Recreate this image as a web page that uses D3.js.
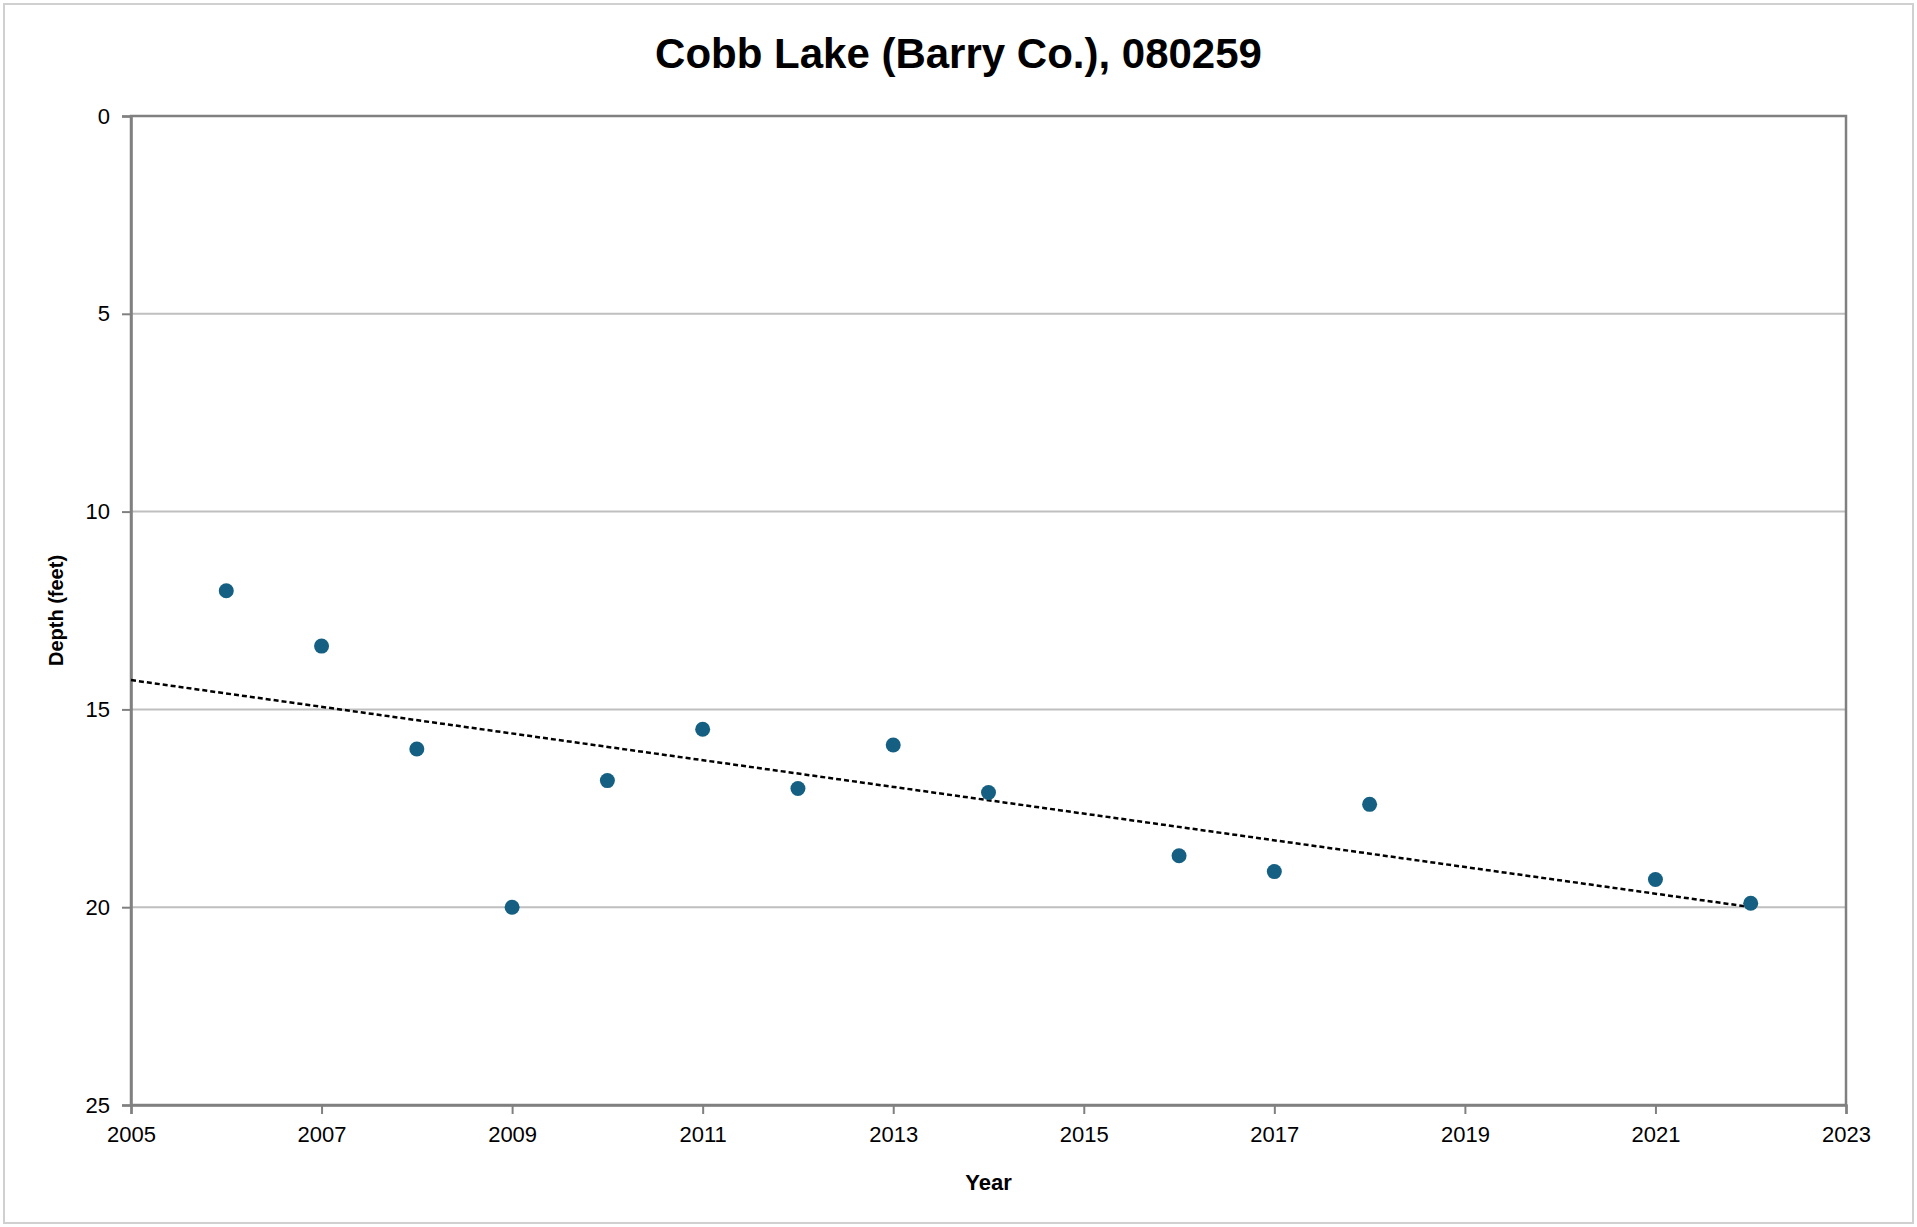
<!DOCTYPE html>
<html>
<head>
<meta charset="utf-8">
<script src="https://cdn.jsdelivr.net/npm/d3@7"></script>
<style>
  body { margin: 0; background: #fff; }
  text { font-family: "Liberation Sans Narrow", "Liberation Sans", sans-serif; }
</style>
</head>
<body>
<div id="chart"></div>
<script>
// data
const years = [2006, 2007, 2008, 2009, 2010, 2011, 2012, 2013, 2014, 2016, 2017, 2018, 2021, 2022];
const depths = [12.0, 13.4, 16.0, 20.0, 16.8, 15.5, 17.0, 15.9, 17.1, 18.7, 19.1, 17.4, 19.3, 19.9];
const xTicks = [2005, 2007, 2009, 2011, 2013, 2015, 2017, 2019, 2021, 2023];
const yTicks = [0, 5, 10, 15, 20, 25];

const W = 1917, H = 1227;
const margin = { top: 116, right: 71, bottom: 122, left: 131 };

const svg = d3.select("#chart").append("svg")
  .attr("width", W).attr("height", H);

svg.append("rect").attr("x", 4).attr("y", 4)
  .attr("width", W - 8).attr("height", H - 8)
  .attr("fill", "#fff").attr("stroke", "#d0d0d0").attr("stroke-width", 2);

const x = d3.scaleLinear().domain([2005, 2023]).range([margin.left, W - margin.right]);
const y = d3.scaleLinear().domain([0, 25]).range([margin.top, H - margin.bottom]);

// gridlines
svg.append("g").selectAll("line").data(yTicks.filter(d => d > 0 && d < 25)).enter()
  .append("line")
  .attr("x1", x(2005)).attr("x2", x(2023))
  .attr("y1", d => y(d)).attr("y2", d => y(d))
  .attr("stroke", "#bfbfbf").attr("stroke-width", 2);

// frame
svg.append("rect")
  .attr("x", x(2005)).attr("y", y(0))
  .attr("width", x(2023) - x(2005)).attr("height", y(25) - y(0))
  .attr("fill", "none").attr("stroke", "#808080").attr("stroke-width", 2.5);

const xAxis = svg.append("g")
  .attr("transform", `translate(0,${y(25)})`)
  .call(d3.axisBottom(x).tickValues(xTicks).tickFormat(d3.format("d")).tickSize(9).tickPadding(12));
const yAxis = svg.append("g")
  .attr("transform", `translate(${x(2005)},0)`)
  .call(d3.axisLeft(y).tickValues(yTicks).tickSize(9).tickPadding(12));
[xAxis, yAxis].forEach(a => {
  a.select(".domain").attr("stroke", "#808080").attr("stroke-width", 2.5);
  a.selectAll(".tick line").attr("stroke", "#808080").attr("stroke-width", 2);
  a.selectAll(".tick text").attr("font-size", 22).attr("fill", "#000")
    .style("font-family", "'Liberation Sans Narrow', sans-serif");
});

// linear trend from the data
const mx = d3.mean(years), my = d3.mean(depths);
const slope = d3.sum(years, (v, i) => (v - mx) * (depths[i] - my)) / d3.sum(years, v => (v - mx) ** 2);
const icpt = my - slope * mx;
svg.append("line")
  .attr("x1", x(2005)).attr("y1", y(icpt + slope * 2005))
  .attr("x2", x(2022)).attr("y2", y(icpt + slope * 2022))
  .attr("stroke", "#000").attr("stroke-width", 2.5).attr("stroke-dasharray", "5,3");

svg.append("g").selectAll("circle").data(years).enter()
  .append("circle")
  .attr("cx", d => x(d)).attr("cy", (d, i) => y(depths[i]))
  .attr("r", 7.5).attr("fill", "#156082");

svg.append("text").attr("x", W / 2).attr("y", 68)
  .attr("text-anchor", "middle").attr("font-size", 42).attr("font-weight", "bold")
  .text("Cobb Lake (Barry Co.), 080259");

svg.append("text").attr("x", (x(2005) + x(2023)) / 2).attr("y", 1190)
  .attr("text-anchor", "middle").attr("font-size", 22).attr("font-weight", "bold")
  .text("Year");

svg.append("text")
  .attr("transform", `translate(63,${(y(0) + y(25)) / 2}) rotate(-90)`)
  .attr("text-anchor", "middle").attr("font-size", 20).attr("font-weight", "bold")
  .style("font-family", "'Liberation Sans', sans-serif")
  .text("Depth (feet)");
</script>
</body>
</html>
